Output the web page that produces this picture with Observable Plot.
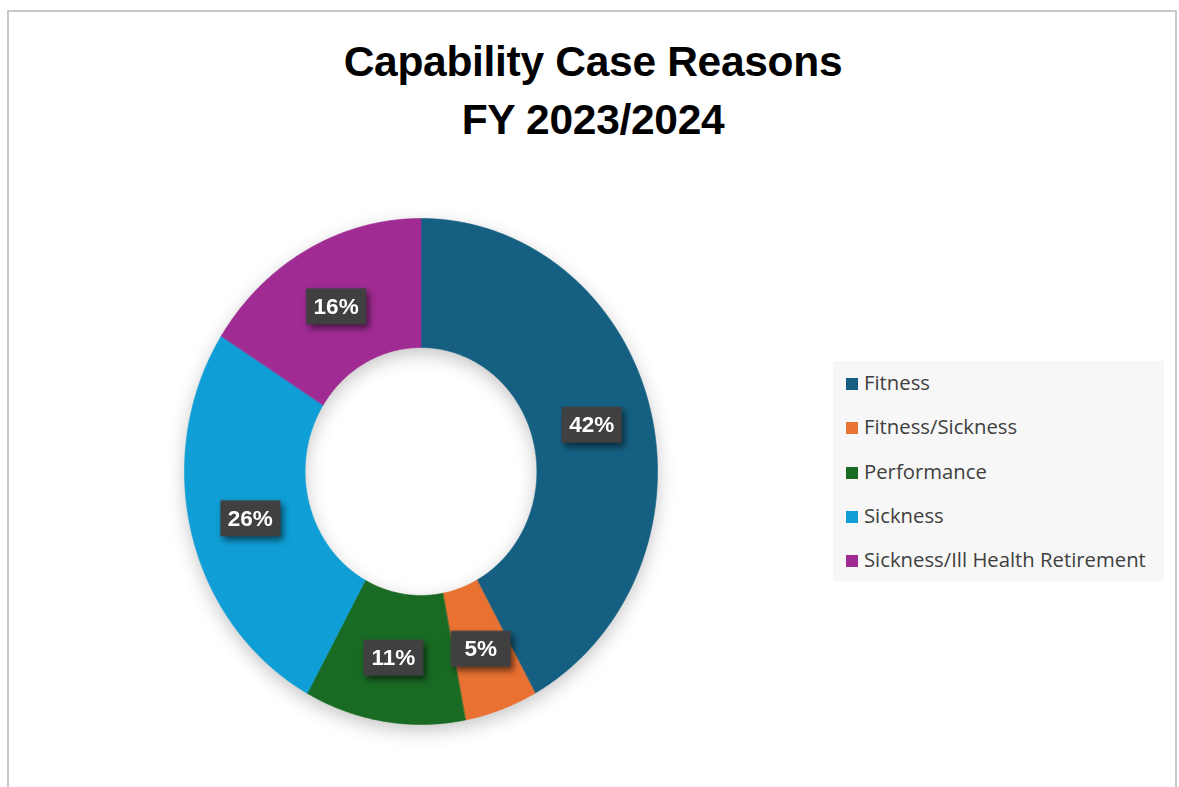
<!DOCTYPE html>
<html>
<head>
<meta charset="utf-8">
<script src="https://cdn.jsdelivr.net/npm/d3@7"></script>
<script src="https://cdn.jsdelivr.net/npm/@observablehq/plot@0.6"></script>
<style>
  html, body { margin: 0; padding: 0; background: #fff; }
  #frame { position: relative; width: 1179px; height: 787px; overflow: hidden; font-family: "Liberation Sans", Arial, sans-serif; }
  #border { position: absolute; left: 7px; top: 10px; width: 1170px; height: 800px; border: 2px solid #c8c8c8; box-sizing: border-box; }
  #title { position: absolute; left: 0; width: 1186px; top: 33px; text-align: center; font-weight: bold; font-size: 42.5px; line-height: 58px; color: #000; letter-spacing: -0.3px; }
  #chart { position: absolute; left: 0; top: 0; }
  #legend { position: absolute; left: 833px; top: 361px; width: 331px; height: 220px; background: #f7f7f7; }
  .item { position: absolute; left: 13px; font-family: "Open Sans", sans-serif; font-size: 20.3px; color: #404040; line-height: 24px; white-space: nowrap; }
  .sw { display: inline-block; width: 12px; height: 12px; margin-right: 6px; vertical-align: 0px; }
  g.ring { filter: drop-shadow(0px 6px 9px rgba(0,0,0,0.22)); }
  g.box { filter: drop-shadow(3px 4px 3px rgba(0,0,0,0.55)); }
</style>
</head>
<body>
<div id="frame">
  <div id="border"></div>
  <div id="title">Capability Case Reasons<br>FY 2023/2024</div>
  <div id="chart"></div>
  <div id="legend"></div>
</div>
<script>
const categories = ["Fitness", "Fitness/Sickness", "Performance", "Sickness", "Sickness/Ill Health Retirement"];
const values = [42, 5, 11, 26, 16];
const labels = ["42%", "5%", "11%", "26%", "16%"];
const colors = ["#156082", "#E97132", "#196B24", "#0F9ED5", "#A02B93"];

const innerRatio = 0.49;
const labelRatio = (1 + innerRatio) / 2;
const arcs = d3.pie().sort(null)(values);

// ring polygons in unit (data) coordinates, angle clockwise from top
const ringRows = [];
arcs.forEach((a, i) => {
  const n = Math.max(8, Math.ceil((a.endAngle - a.startAngle) / 0.01));
  for (let k = 0; k <= n; k++) {
    const t = a.startAngle + (a.endAngle - a.startAngle) * k / n;
    ringRows.push({cat: categories[i], x: Math.sin(t), y: Math.cos(t)});
  }
  for (let k = n; k >= 0; k--) {
    const t = a.startAngle + (a.endAngle - a.startAngle) * k / n;
    ringRows.push({cat: categories[i], x: innerRatio * Math.sin(t), y: innerRatio * Math.cos(t)});
  }
});

const labelRows = arcs.map((a, i) => {
  const t = (a.startAngle + a.endAngle) / 2;
  return {cat: categories[i], text: labels[i], x: labelRatio * Math.sin(t), y: labelRatio * Math.cos(t)};
});

const boxSymbol = { draw(ctx) { ctx.rect(-30, -18, 60, 36); } };

const plot = Plot.plot({
  width: 1179,
  height: 787,
  margin: 0,
  x: {domain: [-1, 1], range: [184, 657], axis: null},
  y: {domain: [-1, 1], range: [724, 218], axis: null},
  color: {domain: categories, range: colors},
  marks: [
    Plot.line(ringRows, {x: "x", y: "y", z: "cat", fill: "cat", stroke: "cat", strokeWidth: 0.6, curve: "linear-closed"}),
    Plot.dot(labelRows, {x: "x", y: "y", symbol: boxSymbol, r: 10, fill: "#404040", stroke: "none"}),
    Plot.text(labelRows, {x: "x", y: "y", text: "text", fill: "white", fontSize: 22.5, fontWeight: "bold", fontFamily: "Liberation Sans, Arial, sans-serif"})
  ]
});
// tag mark groups for CSS filters
plot.querySelectorAll("g[aria-label]").forEach(g => {
  const l = g.getAttribute("aria-label");
  if (l === "line") g.classList.add("ring");
  if (l === "dot") g.classList.add("box");
});
document.getElementById("chart").appendChild(plot);

const legend = document.getElementById("legend");
categories.forEach((c, i) => {
  const d = document.createElement("div");
  d.className = "item";
  d.style.top = (9 + i * 44.3) + "px";
  d.innerHTML = `<span class="sw" style="background:${colors[i]}"></span>${c}`;
  legend.appendChild(d);
});
</script>
</body>
</html>
